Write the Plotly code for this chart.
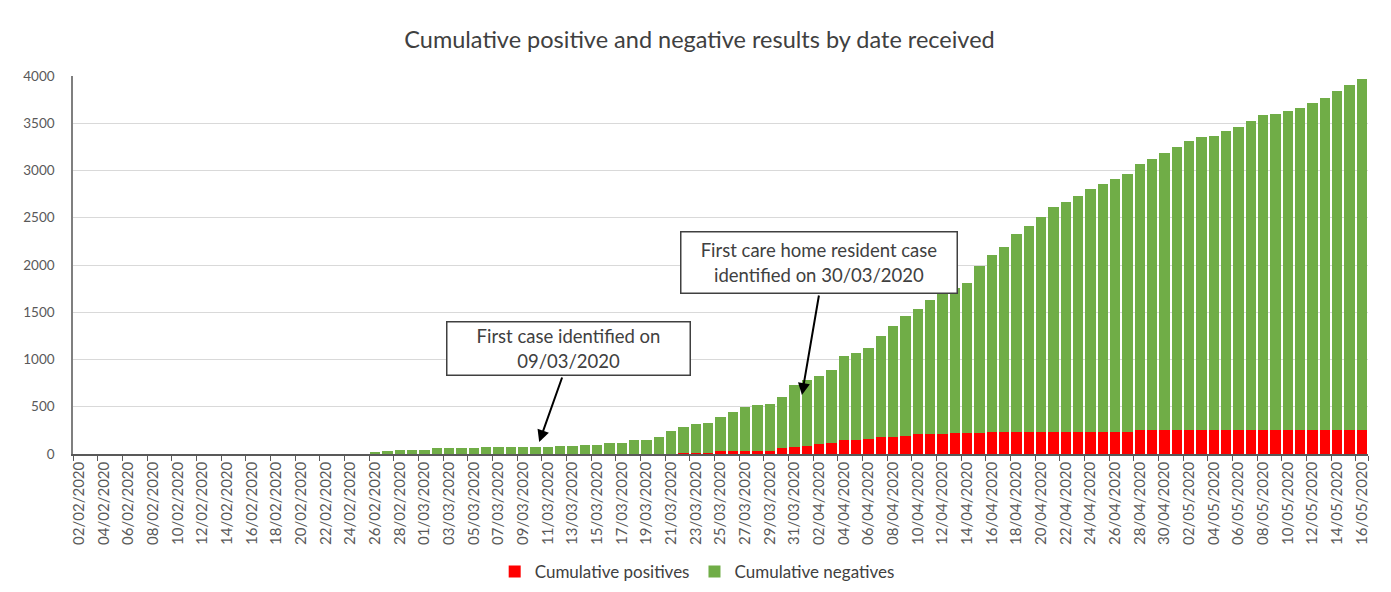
import pandas as pd
import plotly.graph_objects as go

# Categories: one per day, 02/02/2020 .. 16/05/2020
dates = [d.strftime("%d/%m/%Y") for d in pd.date_range("2020-02-02", "2020-05-16", freq="D")]

# Cumulative totals (positives + negatives)
totals = [0] * 24 + [
    18, 30, 44, 44, 44, 59, 59, 59, 59, 74,
    74, 74, 74, 74, 74, 85, 85, 100, 100, 118,
    118, 150, 152, 185, 242, 288, 318, 332, 394, 447,
    493, 517, 531, 605, 725, 778, 824, 894, 1038, 1067,
    1123, 1253, 1355, 1457, 1537, 1625, 1700, 1760, 1812, 1990,
    2102, 2187, 2331, 2415, 2503, 2618, 2664, 2731, 2804, 2861,
    2906, 2964, 3066, 3124, 3184, 3251, 3315, 3350, 3368, 3414,
    3456, 3527, 3583, 3598, 3626, 3658, 3714, 3771, 3845, 3902,
    3972,
]

# Cumulative positives (red part)
positives = [0] * 49 + [
    14, 14, 14, 32, 32, 32, 32, 32, 59, 75,
    90, 102, 117, 147, 147, 164, 180, 180, 195, 208,
    208, 212, 218, 221, 224,
] + [238] * 12 + [252] * 19

negatives = [t - p for t, p in zip(totals, positives)]

tick_labels = dates[::2]

fig = go.Figure()
fig.add_trace(go.Bar(x=dates, y=positives, name="Cumulative positives",
                     marker=dict(color="#FF0000", line=dict(width=0))))
fig.add_trace(go.Bar(x=dates, y=negatives, name="Cumulative negatives",
                     marker=dict(color="#70AD47", line=dict(width=0))))

font_family = "Lato, Open Sans, sans-serif"

# page body has an 8px margin, so the figure is 8px smaller and margins shifted
W, H = 1383, 584
fig.update_layout(
    width=W, height=H,
    barmode="stack", bargap=0.15,
    paper_bgcolor="white", plot_bgcolor="white",
    margin=dict(l=65, r=23, t=68, b=138),
    font=dict(family=font_family, color="#595959"),
    title=dict(text="Cumulative positive and negative results by date received",
               x=0.5, xanchor="center", y=1 - 32 / H, yanchor="middle",
               font=dict(size=23.5, color="#404040", family=font_family)),
    legend=dict(orientation="h", x=0.482, xanchor="center",
                yref="container", y=1 - 564 / H, yanchor="middle",
                font=dict(size=17, color="#404040"), itemwidth=30,
                traceorder="normal"),
    showlegend=True,
)

fig.update_xaxes(
    type="category", tickmode="array", tickvals=tick_labels, ticktext=tick_labels,
    tickangle=-90, tickfont=dict(size=15, color="#595959"),
    ticks="outside", tickson="boundaries", ticklen=5, tickcolor="#595959",
    showline=True, linecolor="#595959", linewidth=1.5,
    showgrid=False, range=[-0.5, len(dates) - 0.5], automargin=False,
)
fig.update_yaxes(
    range=[0, 4000], tickvals=list(range(0, 4001, 500)),
    tickfont=dict(size=13.5, color="#595959"),
    showgrid=True, gridcolor="#D9D9D9", gridwidth=1,
    showline=True, linecolor="#7F7F7F", linewidth=1.5,
    zeroline=False, ticks="", ticklabelstandoff=14, automargin=False,
)

box_font = dict(size=18.5, color="#404040", family=font_family)

# Annotation boxes
fig.add_annotation(x=39.7, y=1121, xref="x", yref="y",
                   text="First case identified on<br>09/03/2020", showarrow=False,
                   font=box_font, bgcolor="white", bordercolor="#404040", borderwidth=1.5,
                   width=240, height=50, borderpad=1)
fig.add_annotation(x=60.0, y=2031, xref="x", yref="y",
                   text="First care home resident case<br>identified on 30/03/2020", showarrow=False,
                   font=box_font, bgcolor="white", bordercolor="#404040", borderwidth=1.5,
                   width=273, height=58, borderpad=1)

# Arrows
fig.add_annotation(x=37.3, y=127, xref="x", yref="y",
                   ax=39.2, ay=825, axref="x", ayref="y",
                   text="", showarrow=True, arrowhead=2, arrowsize=1.2, arrowwidth=2,
                   arrowcolor="#000000")
fig.add_annotation(x=58.6, y=624, xref="x", yref="y",
                   ax=60.0, ay=1693, axref="x", ayref="y",
                   text="", showarrow=True, arrowhead=2, arrowsize=1.2, arrowwidth=2,
                   arrowcolor="#000000")

fig.write_html("out.html")
